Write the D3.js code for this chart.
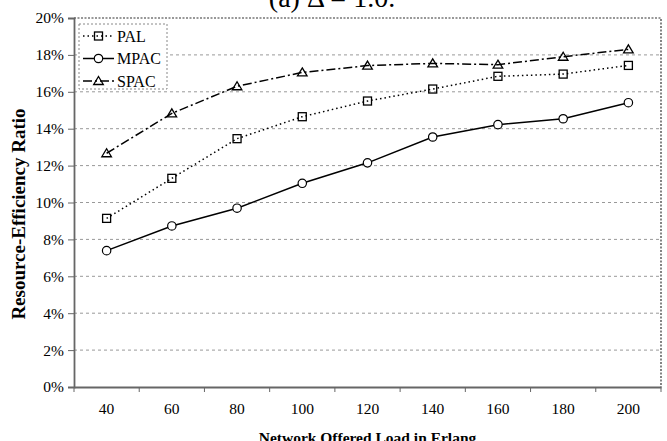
<!DOCTYPE html>
<html>
<head>
<meta charset="utf-8">
<script src="https://cdn.jsdelivr.net/npm/d3@7"></script>
<style>
  body { margin: 0; background: #fff; }
  svg { display: block; }
  svg text { font-family: "Liberation Serif", "Times New Roman", Times, serif; }
</style>
</head>
<body>
<div id="chart"></div>
<script>
// 数据
const loads = [40, 60, 80, 100, 120, 140, 160, 180, 200];
const palValues = [9.14, 11.31, 13.46, 14.65, 15.5, 16.15, 16.84, 16.96, 17.43];
const mpacValues = [7.39, 8.73, 9.69, 11.04, 12.15, 13.55, 14.22, 14.54, 15.41];
const spacValues = [12.67, 14.83, 16.3, 17.05, 17.42, 17.54, 17.47, 17.9, 18.3];
const yTicks = [0, 2, 4, 6, 8, 10, 12, 14, 16, 18, 20];

const series = [
    { name: "PAL", values: palValues, dash: "1.5 3", marker: "square" },
    { name: "MPAC", values: mpacValues, dash: null, marker: "circle" },
    { name: "SPAC", values: spacValues, dash: "9 3 2 3", marker: "triangle" }
];

const width = 667, height = 441;
const plotLeft = 74, plotRight = 661, plotTop = 18, plotBottom = 387;

const svg = d3.select("#chart").append("svg")
    .attr("width", width)
    .attr("height", height);

const x = d3.scaleBand().domain(loads).range([plotLeft, plotRight]);
const y = d3.scaleLinear().domain([0, 20]).range([plotBottom, plotTop]);

// 网格线
svg.append("g")
    .selectAll("line")
    .data(yTicks.filter(d => d > 0 && d < 20))
    .join("line")
    .attr("x1", plotLeft).attr("x2", plotRight)
    .attr("y1", d => y(d)).attr("y2", d => y(d))
    .attr("stroke", "#999")
    .attr("stroke-width", 1)
    .attr("stroke-dasharray", "3 3");

// 上边框和右边框 (虚线)
svg.append("path")
    .attr("d", `M${plotLeft},${plotTop}H${plotRight}V${plotBottom}`)
    .attr("fill", "none")
    .attr("stroke", "#333")
    .attr("stroke-width", 1.2)
    .attr("stroke-dasharray", "2 1.5");

// Y轴
const yAxis = d3.axisLeft(y)
    .tickValues(yTicks)
    .tickFormat(d => d + "%")
    .tickSize(6)
    .tickPadding(4);

const gy = svg.append("g")
    .attr("transform", `translate(${plotLeft},0)`)
    .call(yAxis);
gy.select(".domain").attr("stroke", "#666").attr("stroke-width", 1.8);
gy.selectAll(".tick line").attr("stroke", "#666");
gy.selectAll(".tick text")
    .attr("font-size", 15.5)
    .attr("fill", "#000");

// X轴
const xAxis = d3.axisBottom(x).tickSize(0).tickPadding(16);
const gx = svg.append("g")
    .attr("transform", `translate(0,${plotBottom})`)
    .call(xAxis);
gx.select(".domain").attr("stroke", "#666").attr("stroke-width", 1.8);
gx.selectAll(".tick text")
    .attr("font-size", 15.5)
    .attr("fill", "#000");

// X轴刻度 (在类别之间)
const bounds = loads.map(d => x(d)).concat([plotRight]);
svg.append("g")
    .selectAll("line")
    .data(bounds)
    .join("line")
    .attr("x1", d => d).attr("x2", d => d)
    .attr("y1", plotBottom).attr("y2", plotBottom + 5)
    .attr("stroke", "#666");

// 标题
svg.append("text")
    .attr("x", 332)
    .attr("y", 7)
    .attr("text-anchor", "middle")
    .attr("font-size", 28)
    .text("(a) Δ = 1.0.");

// 轴标题
svg.append("text")
    .attr("x", (plotLeft + plotRight) / 2)
    .attr("y", 443)
    .attr("text-anchor", "middle")
    .attr("font-size", 15.5)
    .attr("font-weight", "bold")
    .text("Network Offered Load in Erlang");

svg.append("text")
    .attr("transform", "translate(25,214) rotate(-90)")
    .attr("text-anchor", "middle")
    .attr("font-size", 19)
    .attr("font-weight", "bold")
    .text("Resource-Efficiency Ratio");

// 画标记
function drawMarker(g, type, cx, cy) {
    if (type === "square") {
        g.append("rect")
            .attr("x", cx - 4).attr("y", cy - 4)
            .attr("width", 8).attr("height", 8)
            .attr("fill", "none")
            .attr("stroke", "#000").attr("stroke-width", 1.3);
    } else if (type === "circle") {
        g.append("circle")
            .attr("cx", cx).attr("cy", cy).attr("r", 4.2)
            .attr("fill", "#fff")
            .attr("stroke", "#000").attr("stroke-width", 1.2);
    } else {
        g.append("path")
            .attr("d", `M${cx},${cy - 4.5}L${cx + 4.8},${cy + 3.5}L${cx - 4.8},${cy + 3.5}Z`)
            .attr("fill", "none")
            .attr("stroke", "#000").attr("stroke-width", 1.3);
    }
}

const line = d3.line()
    .x((d, i) => x(loads[i]) + x.bandwidth() / 2)
    .y(d => y(d));

series.forEach(s => {
    const g = svg.append("g");
    g.append("path")
        .datum(s.values)
        .attr("d", line)
        .attr("fill", "none")
        .attr("stroke", "#000")
        .attr("stroke-width", 1.5)
        .attr("stroke-dasharray", s.dash);
    s.values.forEach((v, i) => {
        drawMarker(g, s.marker, x(loads[i]) + x.bandwidth() / 2, y(v));
    });
});

// 图例
const legend = svg.append("g");
legend.append("rect")
    .attr("x", 79).attr("y", 24)
    .attr("width", 88).attr("height", 65)
    .attr("fill", "#fff")
    .attr("stroke", "#888")
    .attr("stroke-width", 1)
    .attr("stroke-dasharray", "2 2");

series.forEach((s, i) => {
    const ly = 36 + i * 22.5;
    legend.append("line")
        .attr("x1", 83).attr("x2", 114)
        .attr("y1", ly).attr("y2", ly)
        .attr("stroke", "#000")
        .attr("stroke-width", 1.5)
        .attr("stroke-dasharray", s.dash);
    drawMarker(legend, s.marker, 98.5, ly);
    legend.append("text")
        .attr("x", 117)
        .attr("y", ly + 5.5)
        .attr("font-size", 16)
        .text(s.name);
});
</script>
</body>
</html>
